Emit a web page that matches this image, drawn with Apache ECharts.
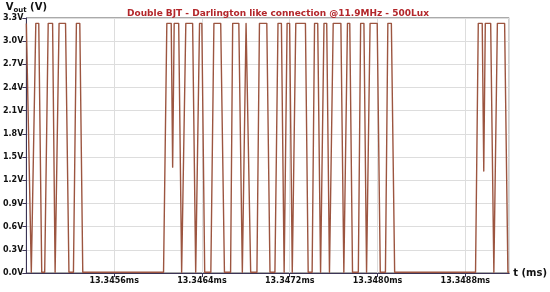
<!DOCTYPE html>
<html>
<head>
    <meta charset="UTF-8">
    <title>Double BJT - Darlington like connection</title>
    <script type="text/javascript" src="https://cdn.jsdelivr.net/npm/echarts@6/dist/echarts.min.js"></script>
    <style>
        html, body { margin: 0; padding: 0; background: #ffffff; }
    </style>
</head>
<body>
<div id="main" style="width: 550px;height:292px;"></div>
<script type="text/javascript">
    // time points (ms) and output voltage (V)
    var tMs = [
        13.344800, 13.344818, 13.344845, 13.344859, 13.344886, 13.344913, 13.344940, 13.344967,
        13.344999, 13.345039, 13.345062, 13.345075, 13.345098, 13.345157, 13.345188, 13.345229,
        13.345256, 13.345287, 13.345314,
        13.346050, 13.346080, 13.346120, 13.346133, 13.346147, 13.346188, 13.346215, 13.346231,
        13.346253, 13.346315, 13.346343, 13.346357, 13.346378, 13.346399, 13.346425, 13.346481,
        13.346509, 13.346571, 13.346605, 13.346661, 13.346680, 13.346736, 13.346768, 13.346781,
        13.346802, 13.346820, 13.346844, 13.346901, 13.346924, 13.346991, 13.347020, 13.347065,
        13.347093, 13.347124, 13.347149, 13.347153, 13.347176, 13.347199, 13.347223, 13.347232,
        13.347255, 13.347343, 13.347368, 13.347404, 13.347426, 13.347455, 13.347481, 13.347490,
        13.347512, 13.347537, 13.347562, 13.347571, 13.347596, 13.347666, 13.347693, 13.347702,
        13.347726, 13.347747, 13.347772, 13.347825, 13.347846, 13.347876, 13.347900, 13.347909,
        13.347932, 13.347997, 13.348025, 13.348072, 13.348094, 13.348126, 13.348156,
        13.348893, 13.348918, 13.348954, 13.348968, 13.348982, 13.349031, 13.349060, 13.349069,
        13.349092, 13.349158, 13.349188, 13.349200
    ];
    var vOut = [
        3.23, 3.23, 0.01, 0.01, 3.23, 3.23, 0.01, 0.01,
        3.23, 3.23, 0.01, 0.01, 3.23, 3.23, 0.01, 0.01,
        3.23, 3.23, 0.01,
        0.01, 3.23, 3.23, 1.37, 3.23, 3.23, 0.01, 0.01,
        3.23, 3.23, 0.01, 0.01, 3.23, 3.23, 0.01, 0.01,
        3.23, 3.23, 0.01, 0.01, 3.23, 3.23, 0.01, 0.01,
        3.23, 3.23, 0.01, 0.01, 3.23, 3.23, 0.01, 0.01,
        3.23, 3.23, 0.01, 0.01, 3.23, 3.23, 0.01, 0.01,
        3.23, 3.23, 0.01, 0.01, 3.23, 3.23, 0.01, 0.01,
        3.23, 3.23, 0.01, 0.01, 3.23, 3.23, 0.01, 0.01,
        3.23, 3.23, 0.01, 0.01, 3.23, 3.23, 0.01, 0.01,
        3.23, 3.23, 0.01, 0.01, 3.23, 3.23, 0.01,
        0.01, 3.23, 3.23, 1.32, 3.23, 3.23, 0.01, 0.01,
        3.23, 3.23, 0.01, 0.01
    ];
    var titleText = 'Double BJT - Darlington like connection @11.9MHz - 500Lux';

    var points = [];
    for (var i = 0; i < tMs.length; i++) {
        points.push([tMs[i], vOut[i]]);
    }

    var myChart = echarts.init(document.getElementById('main'));
    var fontFam = '"DejaVu Sans", Verdana, sans-serif';

    var option = {
        backgroundColor: '#ffffff',
        animation: false,
        title: {
            text: titleText,
            left: 273,
            top: 4,
            textAlign: 'center',
            textStyle: {color: '#b3262a', fontSize: 9, fontWeight: 'bold', fontFamily: fontFam}
        },
        grid: {
            left: 26, right: 37, top: 18, bottom: 19,
            show: true, borderColor: '#555555', borderWidth: 1
        },
        xAxis: {
            type: 'value',
            min: 13.3448,
            max: 13.3492,
            interval: 0.0008,
            name: 't (ms)',
            nameLocation: 'end',
            nameGap: 4,
            nameTextStyle: {color: '#111', fontSize: 10, fontWeight: 'bold', fontFamily: fontFam, verticalAlign: 'middle'},
            axisLine: {onZero: false, lineStyle: {color: '#3b3456', width: 1}},
            axisTick: {length: 4, lineStyle: {color: '#3b3456'}},
            axisLabel: {
                showMinLabel: false,
                color: '#111', fontSize: 8, fontWeight: 'bold', fontFamily: fontFam, margin: 4,
                formatter: function (v) { return v.toFixed(4) + 'ms'; }
            },
            splitLine: {show: true, lineStyle: {color: '#dddddd', width: 1}}
        },
        yAxis: {
            type: 'value',
            min: 0,
            max: 3.3,
            interval: 0.3,
            name: '{v|V}{s|out}{v| (V)}',
            nameLocation: 'end',
            nameGap: 4,
            nameTextStyle: {
                rich: {
                    v: {color: '#111', fontSize: 10, fontWeight: 'bold', fontFamily: fontFam},
                    s: {color: '#111', fontSize: 7, fontWeight: 'bold', fontFamily: fontFam, verticalAlign: 'bottom', padding: [6, 0, 0, 0]}
                }
            },
            axisLine: {show: true, lineStyle: {color: '#3b3456', width: 1}},
            axisTick: {show: true, length: 4, lineStyle: {color: '#3b3456'}},
            axisLabel: {
                color: '#111', fontSize: 8, fontWeight: 'bold', fontFamily: fontFam, margin: 3,
                formatter: function (v) { return v.toFixed(1) + 'V'; }
            },
            splitLine: {show: true, lineStyle: {color: '#dddddd', width: 1}}
        },
        series: [{
            name: 'Vout',
            type: 'line',
            data: points,
            showSymbol: false,
            smooth: false,
            lineStyle: {color: '#9c5540', width: 1.4, join: 'round'},
            clip: true
        }]
    };

    myChart.setOption(option);
</script>
</body>
</html>
